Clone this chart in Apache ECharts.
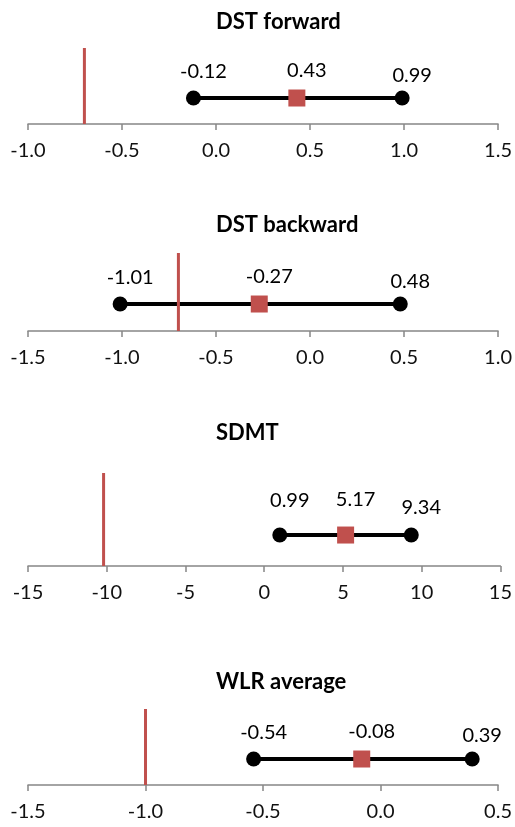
<!DOCTYPE html>
<html>
<head>
<meta charset="utf-8">
<script src="https://cdn.jsdelivr.net/npm/echarts@6/dist/echarts.min.js"></script>
<style>
  html, body { margin: 0; padding: 0; background: #fff; }
  #chart { width: 515px; height: 827px; }
</style>
</head>
<body>
<div id="chart"></div>
<script>
// one panel per test: lower CI, mean difference, upper CI, reference line
const titles = ['DST forward', 'DST backward', 'SDMT', 'WLR average'];
const lowerCI = [-0.12, -1.01, 0.99, -0.54];
const meanDiff = [0.43, -0.27, 5.17, -0.08];
const upperCI = [0.99, 0.48, 9.34, 0.39];
const refValue = [-0.70, -0.70, -10.2, -1.0];

// x axis ticks of each panel
const axisMin = [-1.0, -1.5, -15, -1.5];
const axisMax = [1.5, 1.0, 15, 0.5];
const axisStep = [0.5, 0.5, 5, 0.5];
const axisDecimals = [1, 1, 0, 1];

// layout only (pixels), not data
const layout = [
  { top: 48, height: 76, titleTop: 6, level: 0.342, gap: 9, hiDrop: 4 },
  { top: 253, height: 78, titleTop: 209, level: 0.346, gap: 9, hiDrop: 4 },
  { top: 473, height: 93, titleTop: 417, level: 0.333, gap: 17, hiDrop: 7 },
  { top: 709, height: 76, titleTop: 666, level: 0.342, gap: 9, hiDrop: 3 }
];

const RED = '#C0504D';
const FONT = 'Lato, "Open Sans", sans-serif';

let chart = echarts.init(document.getElementById('chart'), null, { renderer: 'canvas' });

let grids = [], xAxes = [], yAxes = [], series = [], titleList = [];

titles.forEach((name, i) => {
  const L = layout[i];
  titleList.push({
    text: name,
    left: 211,
    top: L.titleTop,
    textStyle: { fontFamily: FONT, fontSize: 22, fontWeight: 'bold', color: '#000' }
  });
  grids.push({ left: 28, width: 474, top: L.top, height: L.height });
  xAxes.push({
    type: 'value',
    gridIndex: i,
    min: axisMin[i],
    max: axisMax[i],
    interval: axisStep[i],
    splitLine: { show: false },
    axisLine: { show: true, onZero: false, lineStyle: { color: '#868686', width: 1.5 } },
    axisTick: { show: true, inside: false, length: 6, lineStyle: { color: '#868686', width: 1.5 } },
    axisLabel: {
      margin: 17,
      fontFamily: FONT,
      fontSize: 20,
      color: '#111',
      showMinLabel: true,
      showMaxLabel: true,
      formatter: v => v.toFixed(axisDecimals[i])
    }
  });
  yAxes.push({ type: 'value', gridIndex: i, min: 0, max: 1, show: false });

  const lbl = {
    show: true,
    position: 'top',
    distance: L.gap,
    offset: [10, 0],
    fontFamily: FONT,
    fontSize: 20,
    color: '#000',
    formatter: p => p.value[0].toFixed(2)
  };

  // confidence interval line
  series.push({
    type: 'line',
    xAxisIndex: i,
    yAxisIndex: i,
    z: 2,
    symbol: 'circle',
    symbolSize: 15,
    itemStyle: { color: '#000', opacity: 1 },
    lineStyle: { color: '#000', width: 4 },
    label: lbl,
    data: [
      { value: [lowerCI[i], L.level] },
      { value: [upperCI[i], L.level], label: { offset: [10, L.hiDrop] } }
    ]
  });
  // reference line
  series.push({
    type: 'line',
    xAxisIndex: i,
    yAxisIndex: i,
    z: 3,
    symbol: 'none',
    lineStyle: { color: RED, width: 3 },
    data: [[refValue[i], 0], [refValue[i], 1]]
  });
  // mean
  series.push({
    type: 'scatter',
    xAxisIndex: i,
    yAxisIndex: i,
    z: 4,
    symbol: 'rect',
    symbolSize: 17,
    itemStyle: { color: RED, opacity: 1 },
    label: lbl,
    data: [[meanDiff[i], L.level]]
  });
});

chart.setOption({
  animation: false,
  backgroundColor: '#fff',
  title: titleList,
  grid: grids,
  xAxis: xAxes,
  yAxis: yAxes,
  series: series
});
</script>
</body>
</html>
